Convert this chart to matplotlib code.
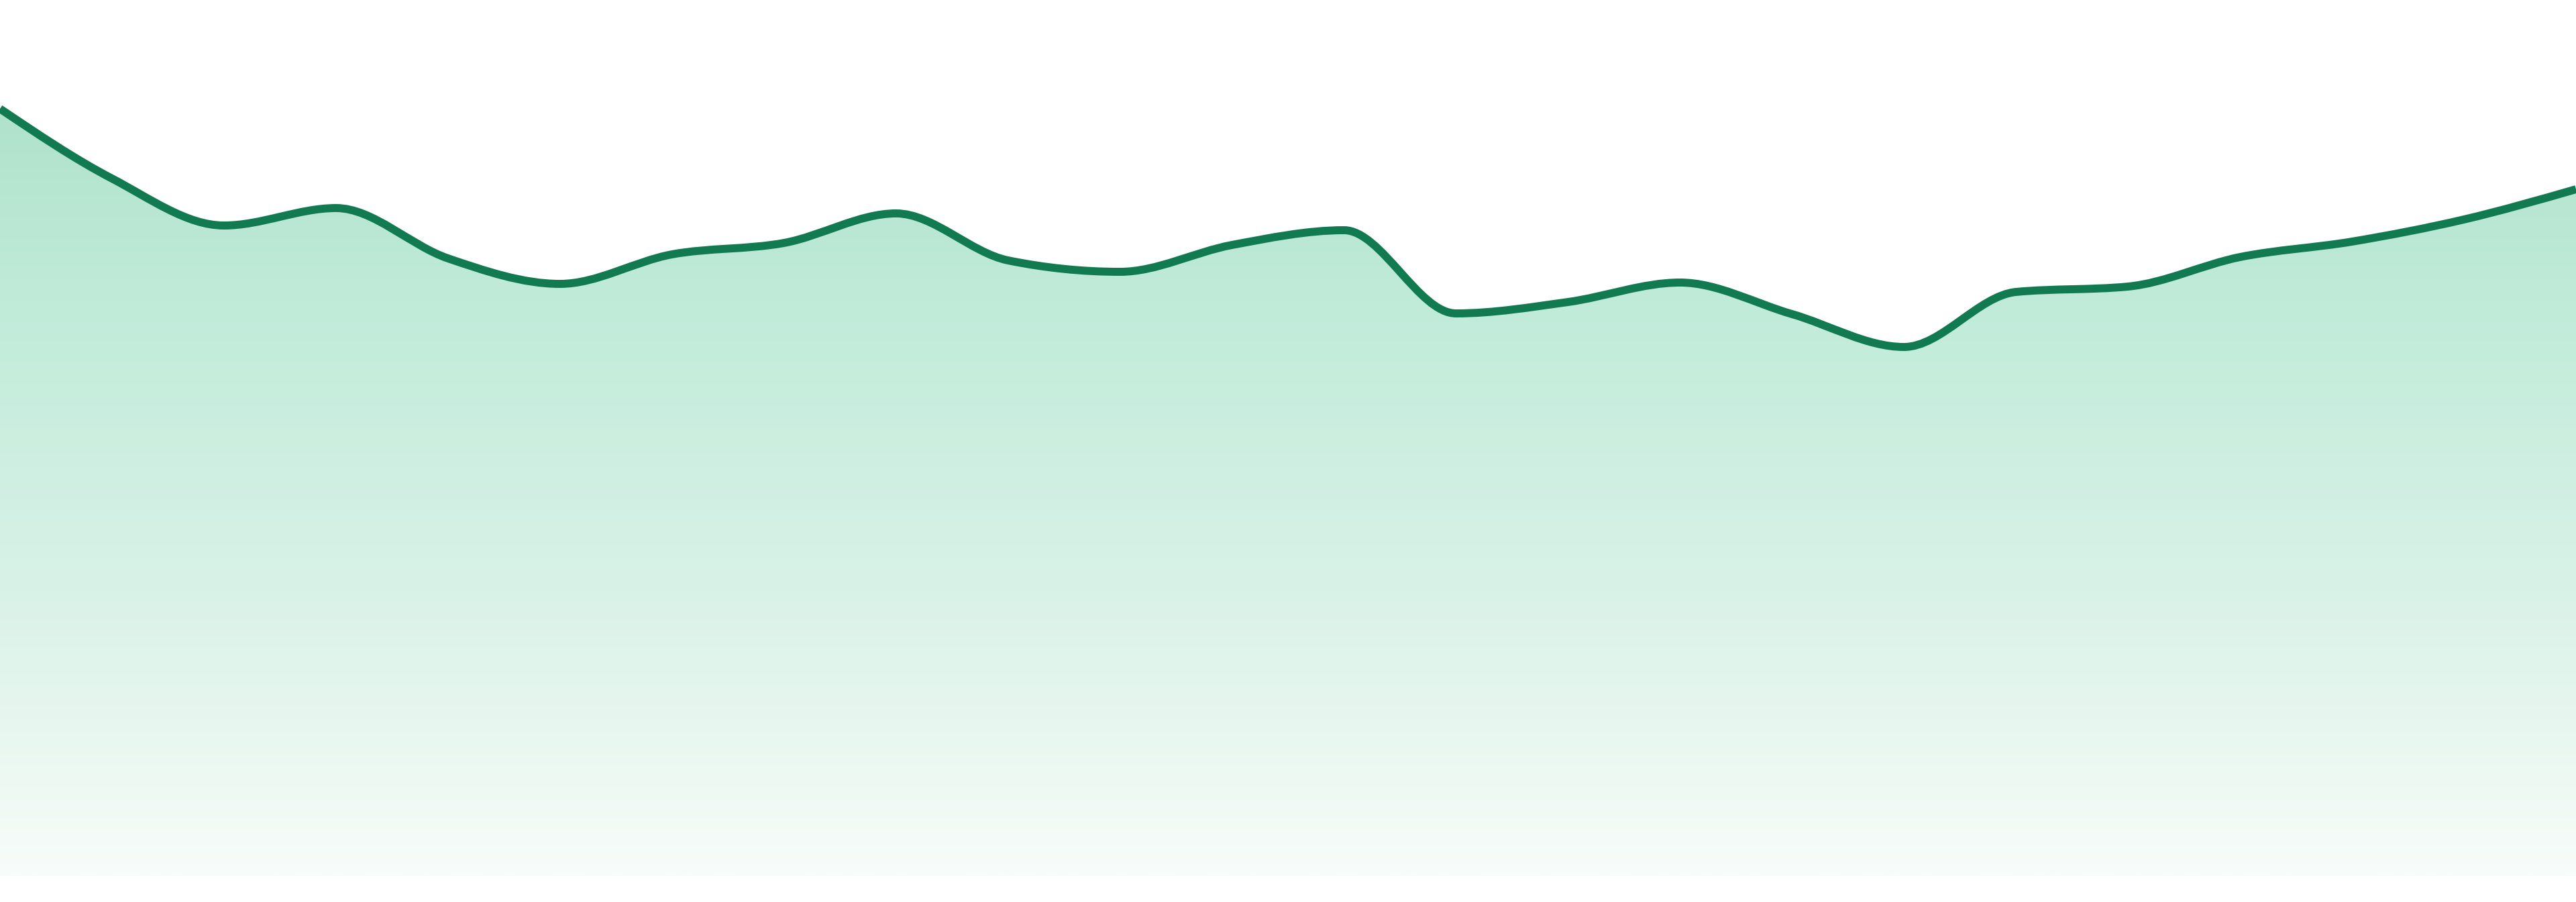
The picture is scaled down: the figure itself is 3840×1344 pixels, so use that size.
import numpy as np
import matplotlib
matplotlib.use("Agg")
import matplotlib.pyplot as plt
from matplotlib.path import Path
from matplotlib.patches import PathPatch
from matplotlib.colors import LinearSegmentedColormap

# values (baseline of the area = 0)
points = list(range(24))
values = [1143, 1039, 969, 995, 920, 882, 926, 943, 987, 917, 900, 940,
          962, 838, 855, 884, 837, 788, 870, 878, 922, 945, 978, 1023]

line_color = "#127a50"
fill_stops = [(0.0, "#f8fcfa"), (0.37, "#d9f2e7"), (0.75, "#c0ebd9"), (1.0, "#b0e2cb")]


def monotone_slopes(x, y):
    # same tangents as d3.curveMonotoneX
    n = len(x)
    t = np.zeros(n)
    for i in range(1, n - 1):
        h0 = x[i] - x[i - 1]
        h1 = x[i + 1] - x[i]
        s0 = (y[i] - y[i - 1]) / h0
        s1 = (y[i + 1] - y[i]) / h1
        p = (s0 * h1 + s1 * h0) / (h0 + h1)
        t[i] = (np.sign(s0) + np.sign(s1)) * min(abs(s0), abs(s1), 0.5 * abs(p))
    h = x[1] - x[0]
    t[0] = (3 * (y[1] - y[0]) / h - t[1]) / 2
    h = x[-1] - x[-2]
    t[-1] = (3 * (y[-1] - y[-2]) / h - t[-2]) / 2
    return t


def curve_vertices(x, y):
    t = monotone_slopes(x, y)
    verts = [(x[0], y[0])]
    codes = [Path.MOVETO]
    for i in range(len(x) - 1):
        dx = (x[i + 1] - x[i]) / 3
        verts += [(x[i] + dx, y[i] + dx * t[i]),
                  (x[i + 1] - dx, y[i + 1] - dx * t[i + 1]),
                  (x[i + 1], y[i + 1])]
        codes += [Path.CURVE4] * 3
    return verts, codes


x = np.array(points, dtype=float)
y = np.array(values, dtype=float)

fig = plt.figure(figsize=(38.4, 13.44), dpi=100)
ax = fig.add_axes([0, 0, 1, 1])
ax.axis("off")

verts, codes = curve_vertices(x, y)

# area under the curve, filled with a vertical gradient
area_verts = verts + [(x[-1], 0), (x[0], 0), (x[0], y[0])]
area_codes = codes + [Path.LINETO, Path.LINETO, Path.CLOSEPOLY]
area = PathPatch(Path(area_verts, area_codes), facecolor="none", edgecolor="none")
ax.add_patch(area)

cmap = LinearSegmentedColormap.from_list("fade", fill_stops)
grad = np.linspace(0, 1, 512).reshape(-1, 1)
img = ax.imshow(grad, cmap=cmap, aspect="auto", origin="lower",
                extent=[x[0], x[-1], 0, max(values)], zorder=1)
img.set_clip_path(area)

line = PathPatch(Path(verts, codes), facecolor="none", edgecolor=line_color,
                 linewidth=8.6, capstyle="butt", joinstyle="round", zorder=2)
ax.add_patch(line)

# limits after imshow, which resets them to its extent
ax.set_xlim(x[0], x[-1])
ax.set_ylim(-39, 1305)

fig.savefig("out.png", dpi=100, facecolor="white")
plt.close(fig)
